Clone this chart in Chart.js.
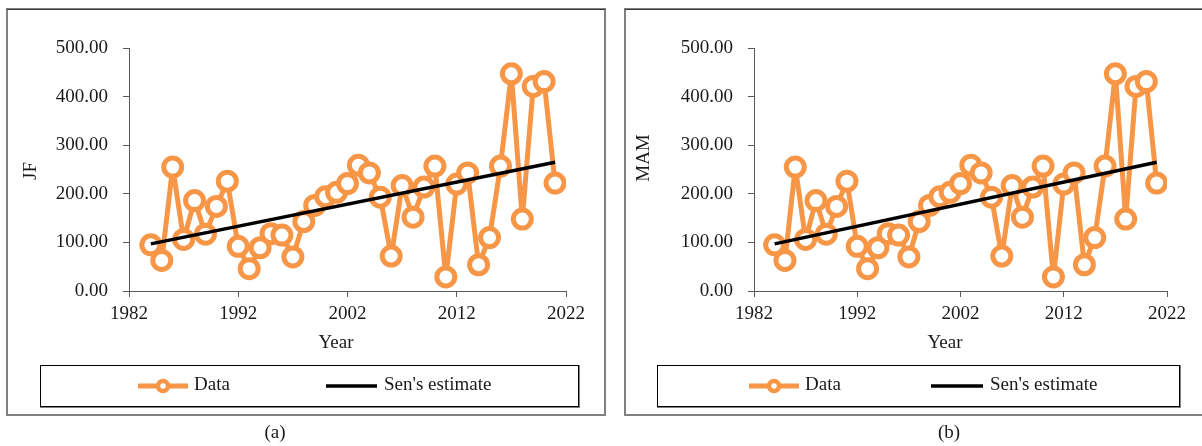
<!DOCTYPE html>
<html>
<head>
<meta charset="utf-8">
<script src="https://cdn.jsdelivr.net/npm/chart.js@4.4.0/dist/chart.umd.min.js"></script>
<style>
  html, body { margin: 0; padding: 0; background: #fff; }
  body { width: 1202px; height: 446px; position: relative; overflow: hidden; }
  .panel { position: absolute; top: 0; height: 446px; }
  #panelA { left: 0; width: 615px; }
  #panelB { left: 615px; width: 587px; }
</style>
</head>
<body>
<div class="panel" id="panelA"><canvas id="chartA"></canvas></div>
<div class="panel" id="panelB"><canvas id="chartB"></canvas></div>
<script>
// ── DATA ──
const years = [1984, 1985, 1986, 1987, 1988, 1989, 1990, 1991, 1992, 1993,
  1994, 1995, 1996, 1997, 1998, 1999, 2000, 2001, 2002, 2003,
  2004, 2005, 2006, 2007, 2008, 2009, 2010, 2011, 2012, 2013,
  2014, 2015, 2016, 2017, 2018, 2019, 2020, 2021];
const jfValues = [95, 63, 255, 106, 186, 117, 174, 226, 92, 46,
  89, 118, 115, 70, 143, 176, 194, 203, 221, 259,
  243, 193, 72, 217, 152, 214, 257, 29, 220, 243,
  54, 110, 257, 447, 148, 421, 431, 222];
const mamValues = [95, 63, 255, 106, 186, 117, 174, 226, 92, 46,
  89, 118, 115, 70, 143, 176, 194, 203, 221, 259,
  243, 193, 72, 217, 152, 214, 257, 29, 220, 243,
  54, 110, 257, 447, 148, 421, 431, 222];
const senYears = [1984, 2021];
const jfSen = [97, 265];
const mamSen = [97, 265];
const yearTicks = [1982, 1992, 2002, 2012, 2022];
const valueTicks = [0, 100, 200, 300, 400, 500];

const ORANGE = '#F79646';
const FONT = '"Liberation Serif", "Times New Roman", serif';
const TEXT = '#1a1a1a';
const AXIS = '#595959';

// frame, legend, axis titles and caption drawn around the plot
const panelDecor = {
  id: 'panelDecor',
  beforeDraw(chart, args, o) {
    const ctx = chart.ctx;
    ctx.save();
    const f = o.frame;
    ctx.strokeStyle = '#808080';
    ctx.lineWidth = 2;
    ctx.strokeRect(f[0], f[1], f[2] - f[0], f[3] - f[1]);
    ctx.strokeStyle = '#3a3a3a';
    ctx.lineWidth = 1;
    ctx.beginPath();
    ctx.moveTo(f[0], f[1] + 0.5);
    ctx.lineTo(f[2], f[1] + 0.5);
    ctx.stroke();
    ctx.restore();
  },
  afterDraw(chart, args, o) {
    const ctx = chart.ctx;
    ctx.save();
    // legend box
    const b = o.legendBox;
    ctx.strokeStyle = '#808080';
    ctx.lineWidth = 2;
    ctx.beginPath();
    ctx.moveTo(b[2], b[1]);
    ctx.lineTo(b[2], b[3]);
    ctx.lineTo(b[0], b[3]);
    ctx.stroke();
    ctx.strokeStyle = '#000';
    ctx.lineWidth = 1;
    ctx.strokeRect(b[0] + 0.5, b[1] + 0.5, b[2] - b[0] - 1, b[3] - b[1] - 1);

    // legend entries
    const L = o.legend;
    ctx.strokeStyle = ORANGE;
    ctx.lineWidth = 5;
    ctx.beginPath();
    ctx.moveTo(L.data[0], L.y);
    ctx.lineTo(L.data[1], L.y);
    ctx.stroke();
    ctx.beginPath();
    ctx.arc((L.data[0] + L.data[1]) / 2, L.y, 5, 0, Math.PI * 2);
    ctx.fillStyle = '#fff';
    ctx.fill();
    ctx.lineWidth = 4.5;
    ctx.stroke();
    ctx.strokeStyle = '#000';
    ctx.lineWidth = 3.5;
    ctx.beginPath();
    ctx.moveTo(L.sen[0], L.y);
    ctx.lineTo(L.sen[1], L.y);
    ctx.stroke();

    ctx.fillStyle = TEXT;
    ctx.font = '19px ' + FONT;
    ctx.textAlign = 'left';
    ctx.textBaseline = 'alphabetic';
    ctx.fillText('Data', L.data[1] + 6, L.y + 4);
    ctx.fillText("Sen's estimate", L.sen[1] + 7, L.y + 4);

    // axis titles
    ctx.textAlign = 'center';
    ctx.fillText('Year', o.xTitle[0], o.xTitle[1]);
    ctx.save();
    ctx.translate(o.yTitle[0], o.yTitle[1]);
    ctx.rotate(-Math.PI / 2);
    ctx.fillText(o.yText, 0, 0);
    ctx.restore();

    // caption
    ctx.fillText(o.caption, o.capPos[0], o.capPos[1]);
    ctx.restore();
  }
};

function makePanel(id, yText, values, sen, layout) {
  const ctx = document.getElementById(id).getContext('2d');
  return new Chart(ctx, {
    type: 'line',
    data: {
      datasets: [
        {
          label: "Sen's estimate",
          data: senYears.map((x, i) => ({ x, y: sen[i] })),
          borderColor: '#000',
          borderWidth: 3.5,
          pointRadius: 0,
          order: 0
        },
        {
          label: 'Data',
          data: years.map((x, i) => ({ x, y: values[i] })),
          borderColor: ORANGE,
          borderWidth: 5,
          borderJoinStyle: 'round',
          pointRadius: 9,
          pointBorderWidth: 5,
          pointBackgroundColor: '#fff',
          pointBorderColor: ORANGE,
          tension: 0,
          order: 1
        }
      ]
    },
    options: {
      responsive: true,
      maintainAspectRatio: false,
      animation: false,
      layout: { padding: layout.padding },
      scales: {
        x: {
          type: 'linear',
          min: 1982,
          max: 2022,
          afterBuildTicks: s => { s.ticks = yearTicks.map(v => ({ value: v })); },
          afterFit: s => { s.height = 40; },
          grid: { display: true, drawOnChartArea: false, drawTicks: true, tickLength: 6, color: AXIS },
          border: { display: true, color: AXIS, width: 1 },
          ticks: { color: TEXT, padding: 6, font: { family: FONT, size: 19 }, callback: v => String(v) }
        },
        y: {
          type: 'linear',
          min: 0,
          max: 500,
          afterBuildTicks: s => { s.ticks = valueTicks.map(v => ({ value: v })); },
          afterFit: s => { s.width = 80; },
          grid: { display: true, drawOnChartArea: false, drawTicks: true, tickLength: 6, color: AXIS },
          border: { display: true, color: AXIS, width: 1 },
          ticks: { color: TEXT, padding: 15, font: { family: FONT, size: 19 }, callback: v => Number(v).toFixed(2) }
        }
      },
      plugins: {
        legend: { display: false },
        tooltip: { enabled: false },
        panelDecor: {
          frame: layout.frame,
          legendBox: layout.legendBox,
          legend: layout.legend,
          xTitle: layout.xTitle,
          yTitle: layout.yTitle,
          yText,
          caption: layout.caption,
          capPos: layout.capPos
        }
      }
    },
    plugins: [panelDecor]
  });
}

makePanel('chartA', 'JF', jfValues, jfSen, {
  padding: { left: 49, right: 49, top: 48, bottom: 115 },
  frame: [7, 9, 605, 415],
  legendBox: [40, 365, 579, 407],
  legend: { y: 386, data: [138, 188], sen: [326, 377] },
  xTitle: [336, 348],
  yTitle: [36, 171],
  caption: '(a)',
  capPos: [275, 438]
});

makePanel('chartB', 'MAM', mamValues, mamSen, {
  padding: { left: 59, right: 35, top: 48, bottom: 115 },
  frame: [10, 9, 600, 415],
  legendBox: [42, 365, 565, 407],
  legend: { y: 386, data: [134, 184], sen: [316, 368] },
  xTitle: [330, 348],
  yTitle: [34, 158],
  caption: '(b)',
  capPos: [334, 438]
});
</script>
</body>
</html>
